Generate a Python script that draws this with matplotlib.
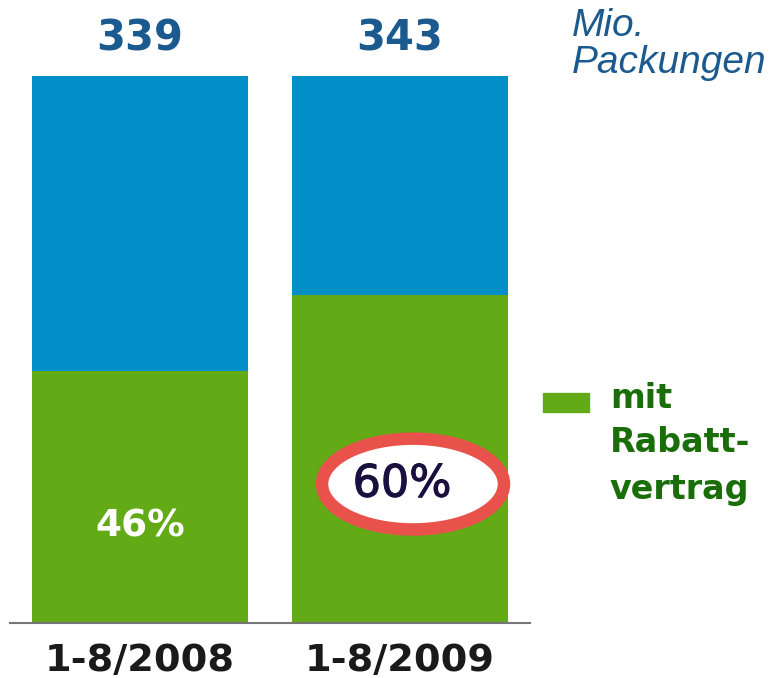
import matplotlib.pyplot as plt
import matplotlib.patheffects as pe
from matplotlib.patches import Ellipse, Rectangle

periods = ['1-8/2008', '1-8/2009']
totals = [339, 343]            # Mio. Packungen
share_rabatt = [46, 60]        # % mit Rabattvertrag

blue = '#008fc6'
green = '#62ab17'
W, H = 772, 678

fig = plt.figure(figsize=(W / 100, H / 100), dpi=100)
ax = fig.add_axes([10 / W, 55 / H, 520 / W, 547 / H])
ax.set_xlim(-0.5, 1.5)
ax.set_ylim(0, 100)

x = range(len(periods))
rest = [100 - s for s in share_rabatt]
ax.bar(x, share_rabatt, width=0.83, color=green, linewidth=0)
ax.bar(x, rest, bottom=share_rabatt, width=0.83, color=blue, linewidth=0)

for s in ['top', 'right', 'left']:
    ax.spines[s].set_visible(False)
ax.spines['bottom'].set_color('#777777')
ax.spines['bottom'].set_linewidth(1.5)
ax.set_yticks([])
ax.set_xticks([])

# totals above the bars
for i, t in enumerate(totals):
    ax.text(i, 106.9, str(t), ha='center', va='center', fontsize=30,
            fontweight='bold', color='#1b5a8e', clip_on=False)

# period labels below
for i, p in enumerate(periods):
    ax.text(i, -6.9, p, ha='center', va='center', fontsize=27.5,
            fontweight='bold', color='#1a1a1a', clip_on=False)

# share labels
ax.text(0, 17.6, f'{share_rabatt[0]}%', ha='center',
        va='center', fontsize=27, fontweight='bold', color='white')
ell = Ellipse((1.05, 25.4), 0.7, 16.6, facecolor='white',
              edgecolor='#e8524a', linewidth=9)
ax.add_patch(ell)
ax.text(1.008, 25.4, f'{share_rabatt[1]}%', ha='center',
        va='center', fontsize=32, color='#1a1040',
        path_effects=[pe.withStroke(linewidth=0.8, foreground='#1a1040')])

# unit
fig.text(572 / W, 1 - 26 / H, 'Mio.', ha='left', va='center', fontsize=28,
         style='italic', family='Liberation Sans', color='#1b5a8e')
fig.text(572 / W, 1 - 63 / H, 'Packungen', ha='left', va='center', fontsize=28,
         style='italic', family='Liberation Sans', color='#1b5a8e')

# legend
fig.patches.append(Rectangle((543 / W, 1 - 412 / H), 46 / W, 19 / H,
                             transform=fig.transFigure, color=green))
for y, line in zip([399, 443, 489], ['mit', 'Rabatt-', 'vertrag']):
    fig.text(610 / W, 1 - y / H, line, ha='left', va='center', fontsize=24,
             fontweight='bold', color='#1a6e0a')

fig.savefig('out.png', dpi=100)
